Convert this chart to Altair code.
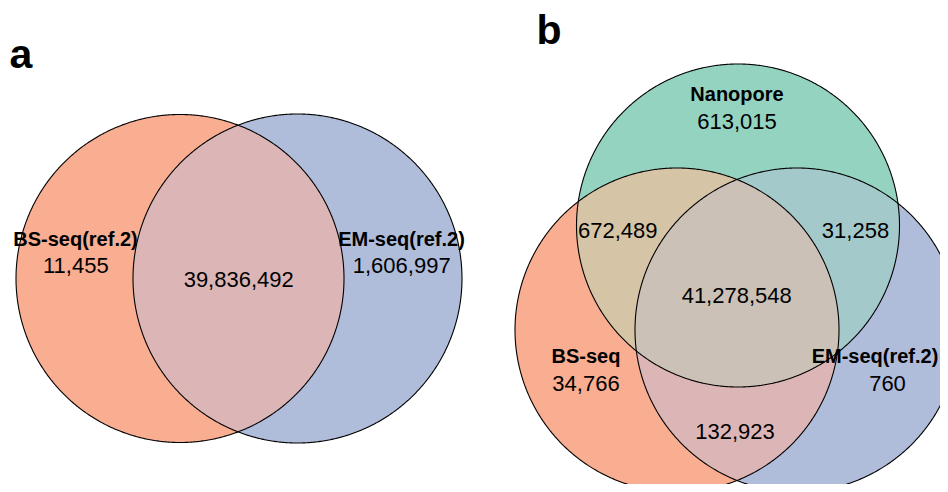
import numpy as np
import pandas as pd
import altair as alt

# ---------------- data ----------------
PANELS = ["a", "b"]

A_SETS = ["BS-seq(ref.2)", "EM-seq(ref.2)"]
A_REGIONS = ["BS only", "BS & EM", "EM only"]
A_COUNTS = [11455, 39836492, 1606997]

B_SETS = ["Nanopore", "BS-seq", "EM-seq(ref.2)"]
B_REGIONS = ["Nanopore only", "Nanopore & BS", "Nanopore & EM", "All three",
             "BS only", "BS & EM", "EM only"]
B_COUNTS = [613015, 672489, 31258, 41278548, 34766, 132923, 760]

# ---------------- layout (pixel space of the figure) ----------------
W, H = 932, 476
X0, Y0 = 8, 8

CIRCLES = {  # id: (cx, cy, r, fill)
    "a_bs": (180.0, 278.5, 164.0, "#F9AD91"),
    "a_em": (297.5, 278.5, 164.5, "#AFBCDA"),
    "b_nano": (738.0, 225.5, 161.5, "#95D3C1"),
    "b_bs": (677.0, 330.0, 162.0, "#F9AD91"),
    "b_em": (797.0, 330.0, 162.0, "#AFBCDA"),
}
PAIR_LENSES = [
    ("a_bs_em", ["a_bs", "a_em"], "#DCB6B6"),
    ("b_nano_bs", ["b_nano", "b_bs"], "#D5C4A5"),
    ("b_nano_em", ["b_nano", "b_em"], "#A4C9CB"),
    ("b_bs_em", ["b_bs", "b_em"], "#DCB6B6"),
]
TRIPLE = [("b_all", ["b_nano", "b_bs", "b_em"], "#CBC1B7")]

SET_LABEL_POS = {  # (x, baseline y)
    "a": [(75.5, 246), (401.5, 246)],
    "b": [(737, 101), (586, 363), (875, 363)],
}
COUNT_POS = {
    "a": [(75.8, 273.3), (238.7, 286.7), (401.7, 273.3)],
    "b": [(737, 129), (617.7, 237.7), (855.5, 237.7), (736.7, 303.3),
          (586, 390.7), (735, 439.3), (887.5, 390.7)],
}
PANEL_POS = [(21, 68), (549, 44)]

FONT = "Arial, Liberation Sans, Helvetica, sans-serif"


def convex_region(names, n=900):
    circs = [CIRCLES[k] for k in names]
    xa = max(c[0] - c[2] for c in circs)
    xb = min(c[0] + c[2] for c in circs)
    t = np.linspace(0, np.pi, n)
    xs = xa + (xb - xa) * (1 - np.cos(t)) / 2
    tops = np.full(n, -1e9)
    bots = np.full(n, 1e9)
    for cx, cy, r, _ in circs:
        h = np.sqrt(np.clip(r ** 2 - (xs - cx) ** 2, 0, None))
        tops = np.maximum(tops, cy - h)
        bots = np.minimum(bots, cy + h)
    keep = tops <= bots
    return pd.DataFrame({"x": xs[keep], "y": tops[keep], "y2": bots[keep]})


xs = alt.Scale(domain=[X0, X0 + W], nice=False, zero=False)
ys = alt.Scale(domain=[Y0, Y0 + H], nice=False, zero=False, reverse=True)


def area_layer(names, fill):
    df = convex_region(names)
    return alt.Chart(df).mark_area(color=fill, opacity=1).encode(
        x=alt.X("x:Q", scale=xs, axis=None),
        y=alt.Y("y:Q", scale=ys, axis=None, stack=None),
        y2="y2:Q",
    )


fill_layers = [area_layer([k], v[3]) for k, v in CIRCLES.items()]
fill_layers += [area_layer(nm, f) for _, nm, f in PAIR_LENSES]
fill_layers += [area_layer(nm, f) for _, nm, f in TRIPLE]

outline_rows = []
th = np.linspace(0, 2 * np.pi, 721)
for k, (cx, cy, r, _) in CIRCLES.items():
    outline_rows.append(pd.DataFrame({"id": k, "x": cx + r * np.cos(th),
                                      "y": cy + r * np.sin(th),
                                      "i": np.arange(len(th))}))
outline_df = pd.concat(outline_rows, ignore_index=True)

outlines = alt.Chart(outline_df).mark_line(color="black", strokeWidth=1.1).encode(
    x=alt.X("x:Q", scale=xs, axis=None),
    y=alt.Y("y:Q", scale=ys, axis=None),
    detail="id:N",
    order="i:Q",
)

set_rows, count_rows = [], []
for p, sets in zip(PANELS, [A_SETS, B_SETS]):
    for s, (x, y) in zip(sets, SET_LABEL_POS[p]):
        set_rows.append({"label": s, "x": x, "y": y})
for p, counts in zip(PANELS, [A_COUNTS, B_COUNTS]):
    for c, (x, y) in zip(counts, COUNT_POS[p]):
        count_rows.append({"label": f"{c:,}", "x": x, "y": y})
set_df = pd.DataFrame(set_rows)
count_df = pd.DataFrame(count_rows)
panel_df = pd.DataFrame({"label": PANELS, "x": [p[0] for p in PANEL_POS],
                         "y": [p[1] for p in PANEL_POS]})


def text_layer(df, size, weight):
    return alt.Chart(df).mark_text(font=FONT, fontSize=size, fontWeight=weight,
                                   align="center", baseline="alphabetic",
                                   color="black").encode(
        x=alt.X("x:Q", scale=xs, axis=None),
        y=alt.Y("y:Q", scale=ys, axis=None),
        text="label:N",
    )


chart = alt.layer(
    *fill_layers,
    outlines,
    text_layer(count_df, 22, "normal"),
    text_layer(set_df, 20, "bold"),
    text_layer(panel_df, 41, "bold"),
).properties(
    width=W, height=H, padding=0, autosize=alt.AutoSizeParams(type="none")
).configure(background="white").configure_view(stroke=None)

chart.save("out.html", embed_options={"renderer": "svg", "actions": False})
